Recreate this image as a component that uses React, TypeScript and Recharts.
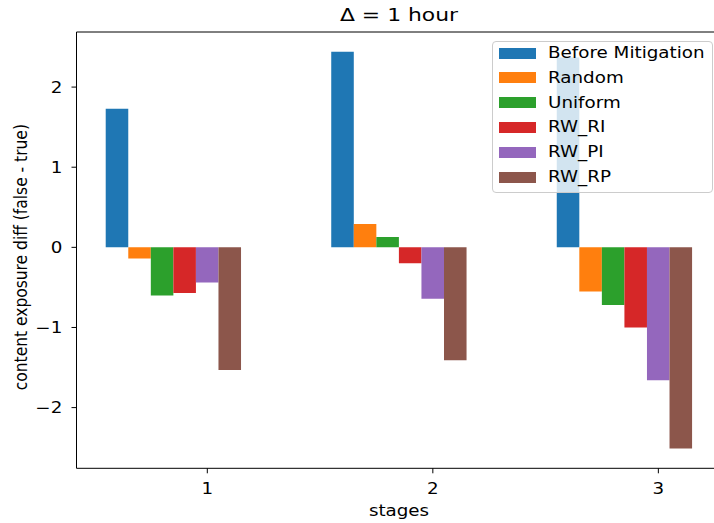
import React from 'react';
import { BarChart, Bar, XAxis, YAxis, Legend } from 'recharts';

// ---------- data ----------
const STAGES = [1, 2, 3];
const SERIES_NAMES = ['Before Mitigation', 'Random', 'Uniform', 'RW_RI', 'RW_PI', 'RW_RP'];
const BEFORE = [1.73, 2.44, 2.37];
const RANDOM = [-0.14, 0.29, -0.55];
const UNIFORM = [-0.6, 0.13, -0.72];
const RW_RI = [-0.57, -0.2, -1.0];
const RW_PI = [-0.44, -0.64, -1.66];
const RW_RP = [-1.53, -1.41, -2.51];
const Y_TICKS = [-2, -1, 0, 1, 2];
const TITLE = 'Δ = 1 hour';
const X_LABEL = 'stages';
const Y_LABEL = 'content exposure diff (false - true)';

// ---------- style ----------
const COLORS = ['#1f77b4', '#ff7f0e', '#2ca02c', '#d62728', '#9467bd', '#8c564b'];
const FONT = '"DejaVu Sans", sans-serif';
const FS = 15.5;
const SX = 1.18; // horizontal stretch of the reference text
const TITLE_FS = 17.5;
const TITLE_SX = 1.25;

const SERIES = [BEFORE, RANDOM, UNIFORM, RW_RI, RW_PI, RW_RP];
const KEYS = SERIES.map((_, k) => `s${k}`);
const rows = STAGES.map((stage, i) => {
  const r: Record<string, number> = { stage };
  SERIES.forEach((vals, k) => {
    r[KEYS[k]] = vals[i];
  });
  return r;
});

// matplotlib-like bar placement: width 0.1, series k centred at stage + (k-4)*0.1
const BAR_W = 0.1;
const OFFSETS = SERIES.map((_, k) => (k - 4) * BAR_W);
const xLo = Math.min(...STAGES) + Math.min(...OFFSETS) - BAR_W / 2;
const xHi = Math.max(...STAGES) + Math.max(...OFFSETS) + BAR_W / 2;
const xPad = 0.05 * (xHi - xLo);
const X_DOMAIN: [number, number] = [xLo - xPad, xHi + xPad];
const SHIFT = OFFSETS.reduce((a, b) => a + b, 0) / OFFSETS.length;
const BARS_DOMAIN: [number, number] = [X_DOMAIN[0] - SHIFT, X_DOMAIN[1] - SHIFT];

const allVals = SERIES.flat().concat([0]);
const yLo = Math.min(...allVals);
const yHi = Math.max(...allVals);
const yPad = 0.05 * (yHi - yLo);
const Y_DOMAIN: [number, number] = [yLo - yPad, yHi + yPad];

// ---------- layout ----------
const CHART_W = 730;
const CHART_H = 523;
const PLOT_LEFT = 76.5;
const PLOT_TOP = 32;
const TOP_AXIS_H = 1;
const PLOT_W = 645;
const PLOT_H = 436.3;
const MARGIN_RIGHT = CHART_W - PLOT_LEFT - PLOT_W;
const X_AXIS_H = CHART_H - PLOT_TOP - PLOT_H;
const BAR_PX = (PLOT_W * BAR_W) / (X_DOMAIN[1] - X_DOMAIN[0]);

const fmt = (v: number) => (v < 0 ? '\u2212' + Math.abs(v) : String(v));

const stretchText = (x: number, y: number, text: string, anchor: string, size = FS, sx = SX) => (
  <text
    transform={`translate(${x},${y}) scale(${sx},1)`}
    textAnchor={anchor}
    fontFamily={FONT}
    fontSize={size}
    fill="#000"
  >
    {text}
  </text>
);

const renderXTick = (p: any) => (
  <g>{stretchText(p.x, p.y + 16.5, fmt(p.payload.value), 'middle')}</g>
);

const renderYTick = (p: any) => (
  <g>{stretchText(p.x, p.y + 5.7, fmt(p.payload.value), 'end')}</g>
);

const renderXLabel = (p: any) => {
  const vb = p && p.viewBox ? p.viewBox : { x: PLOT_LEFT, y: PLOT_TOP + PLOT_H, width: PLOT_W };
  return stretchText(vb.x + vb.width / 2, PLOT_TOP + PLOT_H + 47.2, X_LABEL, 'middle');
};

const renderTitle = (p: any) => {
  const vb = p && p.viewBox ? p.viewBox : { x: PLOT_LEFT, y: PLOT_TOP, width: PLOT_W };
  return stretchText(vb.x + vb.width / 2, PLOT_TOP - 11.3, TITLE, 'middle', TITLE_FS, TITLE_SX);
};

const renderYLabel = () => {
  const cy = PLOT_TOP + PLOT_H / 2 + 7;
  return (
    <text
      transform={`translate(26.7,${cy}) rotate(-90) scale(1,${SX})`}
      textAnchor="middle"
      fontFamily={FONT}
      fontSize={FS}
      fill="#000"
    >
      {Y_LABEL}
    </text>
  );
};

const renderLegend = (props: any) => {
  const raw =
    props && props.payload && props.payload.length
      ? [...props.payload]
      : SERIES_NAMES.map((n, k) => ({ value: n, color: COLORS[k], dataKey: KEYS[k] }));
  const items = raw.sort((a: any, b: any) => KEYS.indexOf(a.dataKey) - KEYS.indexOf(b.dataKey));
  return (
    <div
      style={{
        boxSizing: 'border-box',
        width: 221,
        height: 152.6,
        border: '1px solid #cccccc',
        borderRadius: 4,
        background: 'rgba(255,255,255,0.8)',
        overflow: 'hidden',
      }}
    >
      <div style={{ marginTop: -1.1 }}>
        {items.map((it: any, i: number) => (
          <div key={i} style={{ display: 'flex', alignItems: 'center', height: 24.84, paddingLeft: 6.6 }}>
            <span style={{ display: 'inline-block', width: 36.4, height: 11, background: it.color, flex: 'none' }} />
            <span
              style={{
                display: 'inline-block',
                marginLeft: 12.8,
                fontFamily: FONT,
                fontSize: FS,
                color: '#000',
                transform: `scaleX(${SX})`,
                transformOrigin: 'left center',
                whiteSpace: 'nowrap',
                lineHeight: 1.164,
              }}
            >
              {it.value}
            </span>
          </div>
        ))}
      </div>
    </div>
  );
};

export default function App() {
  return (
    <div
      style={{
        position: 'fixed',
        left: 0,
        top: 0,
        width: 714,
        height: 523,
        overflow: 'hidden',
        background: '#fff',
      }}
    >
      <BarChart
        width={CHART_W}
        height={CHART_H}
        data={rows}
        margin={{ top: PLOT_TOP - TOP_AXIS_H, right: MARGIN_RIGHT, bottom: 0, left: 0 }}
        barGap={0}
        barSize={BAR_PX}
      >
        <XAxis
          xAxisId="base"
          type="number"
          dataKey="stage"
          domain={X_DOMAIN}
          allowDataOverflow
          ticks={STAGES}
          height={X_AXIS_H}
          tickSize={5}
          tickMargin={4}
          tick={renderXTick}
          axisLine={{ stroke: '#000' }}
          tickLine={{ stroke: '#000' }}
          label={{ content: renderXLabel }}
        />
        <XAxis
          xAxisId="top"
          orientation="top"
          type="number"
          dataKey="stage"
          domain={X_DOMAIN}
          allowDataOverflow
          ticks={STAGES}
          height={TOP_AXIS_H}
          tick={false}
          tickLine={false}
          axisLine={{ stroke: '#000' }}
          label={{ content: renderTitle }}
        />
        <XAxis
          xAxisId="shifted"
          type="number"
          dataKey="stage"
          domain={BARS_DOMAIN}
          allowDataOverflow
          tickCount={3}
          hide
        />
        <YAxis
          type="number"
          domain={Y_DOMAIN}
          allowDataOverflow
          ticks={Y_TICKS}
          width={PLOT_LEFT}
          tickSize={5}
          tickMargin={9}
          tick={renderYTick}
          axisLine={{ stroke: '#000' }}
          tickLine={{ stroke: '#000' }}
          label={{ content: renderYLabel }}
        />
        {KEYS.map((k, i) => (
          <Bar
            key={k}
            xAxisId="shifted"
            dataKey={k}
            name={SERIES_NAMES[i]}
            fill={COLORS[i]}
            isAnimationActive={false}
          />
        ))}
        <Legend
          layout="vertical"
          align="center"
          verticalAlign="middle"
          content={renderLegend}
          wrapperStyle={{ left: 491.7, top: 40.7, width: 221, height: 152.6, right: 'auto', bottom: 'auto' }}
        />
      </BarChart>
    </div>
  );
}
